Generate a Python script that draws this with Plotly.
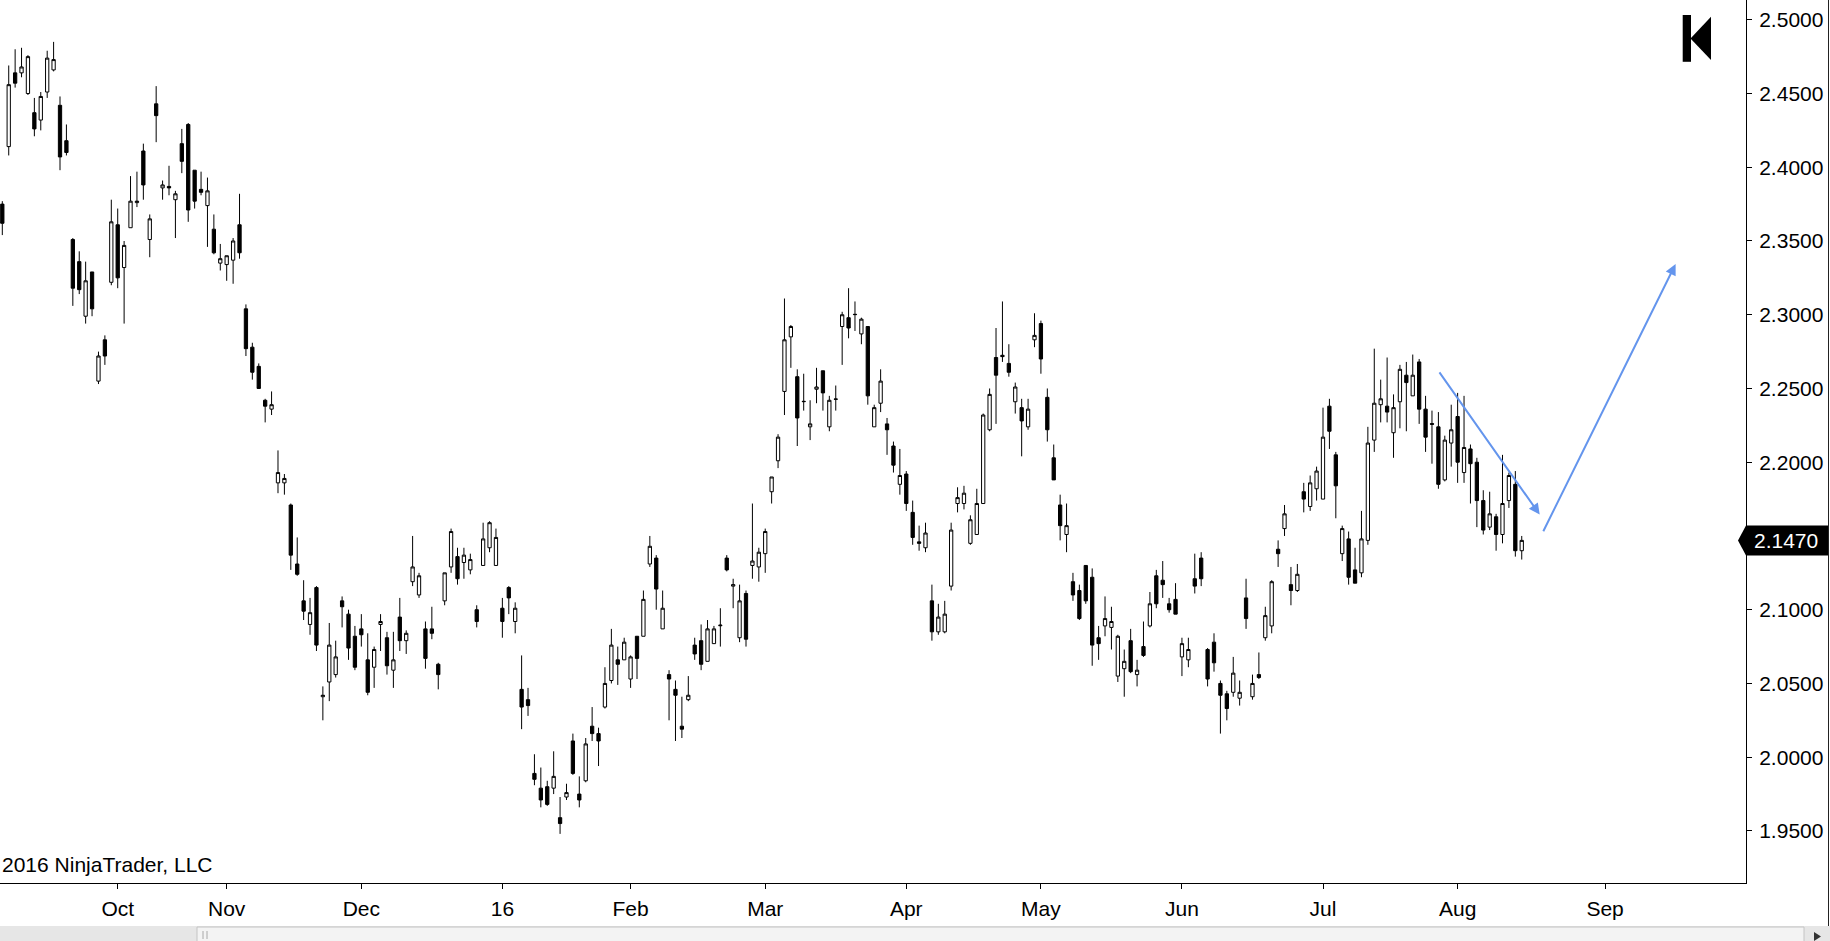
import plotly.graph_objects as go

# daily bars, oldest first
opens = [
    2.375, 2.414, 2.464, 2.464, 2.450, 2.437, 2.432, 2.451, 2.466, 2.442,
    2.418, 2.351, 2.336, 2.299, 2.329, 2.255, 2.283, 2.322, 2.361, 2.332,
    2.359, 2.376, 2.411, 2.351, 2.443, 2.386, 2.387, 2.378, 2.416, 2.429,
    2.398, 2.385, 2.374, 2.358, 2.335, 2.334, 2.337, 2.361, 2.304, 2.278,
    2.265, 2.242, 2.236, 2.186, 2.186, 2.171, 2.131, 2.106, 2.090, 2.115,
    2.041, 2.051, 2.056, 2.106, 2.097, 2.082, 2.087, 2.066, 2.061, 2.090,
    2.081, 2.059, 2.095, 2.079, 2.119, 2.110, 2.087, 2.087, 2.063, 2.106,
    2.129, 2.136, 2.132, 2.127, 2.100, 2.130, 2.142, 2.130, 2.101, 2.115,
    2.092, 2.046, 2.039, 1.989, 1.979, 1.980, 1.979, 1.959, 1.973, 2.011,
    1.975, 1.984, 2.021, 2.016, 2.034, 2.052, 2.066, 2.066, 2.053, 2.082,
    2.082, 2.131, 2.135, 2.087, 2.056, 2.046, 2.021, 2.039, 2.076, 2.079,
    2.065, 2.077, 2.0891, 2.135, 2.116, 2.081, 2.111, 2.130, 2.129, 2.138,
    2.180, 2.201, 2.248, 2.285, 2.258, 2.2413, 2.224, 2.2495, 2.262, 2.224,
    2.2429, 2.292, 2.298, 2.3003, 2.287, 2.292, 2.224, 2.240, 2.226, 2.211,
    2.185, 2.192, 2.166, 2.146, 2.142, 2.106, 2.085, 2.085, 2.116, 2.172,
    2.172, 2.145, 2.151, 2.172, 2.222, 2.271, 2.2725, 2.267, 2.241, 2.237,
    2.224, 2.283, 2.294, 2.244, 2.203, 2.171, 2.151, 2.119, 2.113, 2.130,
    2.122, 2.081, 2.089, 2.088, 2.055, 2.060, 2.079, 2.056, 2.075, 2.089,
    2.123, 2.120, 2.104, 2.107, 2.068, 2.066, 2.121, 2.135, 2.073, 2.078,
    2.050, 2.043, 2.044, 2.040, 2.108, 2.041, 2.056, 2.081, 2.089, 2.141,
    2.155, 2.117, 2.113, 2.180, 2.170, 2.182, 2.175, 2.238, 2.205, 2.138,
    2.148, 2.127, 2.125, 2.147, 2.215, 2.239, 2.238, 2.220, 2.241, 2.259,
    2.245, 2.268, 2.236, 2.2262, 2.224, 2.188, 2.213, 2.231, 2.193, 2.209,
    2.200, 2.174, 2.156, 2.163, 2.151, 2.174, 2.185, 2.140,
]
highs = [
    2.377, 2.469, 2.480, 2.481, 2.476, 2.447, 2.451, 2.479, 2.485, 2.448,
    2.429, 2.352, 2.343, 2.336, 2.329, 2.275, 2.286, 2.378, 2.372, 2.350,
    2.394, 2.397, 2.416, 2.368, 2.455, 2.391, 2.401, 2.384, 2.426, 2.430,
    2.398, 2.397, 2.393, 2.368, 2.348, 2.340, 2.352, 2.382, 2.307, 2.281,
    2.267, 2.243, 2.248, 2.208, 2.192, 2.172, 2.149, 2.120, 2.108, 2.116,
    2.048, 2.091, 2.079, 2.109, 2.100, 2.089, 2.097, 2.084, 2.075, 2.097,
    2.085, 2.085, 2.108, 2.086, 2.150, 2.125, 2.092, 2.102, 2.064, 2.125,
    2.155, 2.142, 2.142, 2.138, 2.103, 2.159, 2.160, 2.155, 2.108, 2.116,
    2.105, 2.069, 2.047, 2.002, 1.993, 1.984, 2.004, 1.973, 1.982, 2.016,
    1.987, 2.013, 2.034, 2.020, 2.061, 2.087, 2.075, 2.081, 2.069, 2.082,
    2.113, 2.150, 2.137, 2.113, 2.059, 2.052, 2.041, 2.055, 2.081, 2.090,
    2.093, 2.089, 2.101, 2.137, 2.121, 2.117, 2.113, 2.172, 2.142, 2.155,
    2.190, 2.219, 2.311, 2.293, 2.263, 2.260, 2.242, 2.264, 2.262, 2.245,
    2.252, 2.302, 2.318, 2.309, 2.298, 2.292, 2.239, 2.263, 2.230, 2.214,
    2.209, 2.194, 2.174, 2.157, 2.159, 2.117, 2.104, 2.106, 2.159, 2.183,
    2.184, 2.164, 2.182, 2.233, 2.250, 2.291, 2.309, 2.280, 2.254, 2.243,
    2.243, 2.301, 2.296, 2.250, 2.212, 2.178, 2.172, 2.125, 2.117, 2.130,
    2.128, 2.089, 2.109, 2.102, 2.083, 2.073, 2.087, 2.066, 2.092, 2.112,
    2.127, 2.133, 2.108, 2.118, 2.081, 2.081, 2.138, 2.139, 2.074, 2.084,
    2.052, 2.045, 2.068, 2.052, 2.121, 2.056, 2.071, 2.102, 2.120, 2.147,
    2.171, 2.129, 2.131, 2.186, 2.191, 2.197, 2.237, 2.243, 2.207, 2.157,
    2.153, 2.142, 2.167, 2.224, 2.277, 2.256, 2.271, 2.246, 2.266, 2.268,
    2.273, 2.270, 2.245, 2.235, 2.234, 2.218, 2.239, 2.247, 2.245, 2.212,
    2.203, 2.181, 2.180, 2.165, 2.205, 2.193, 2.194, 2.150,
]
lows = [
    2.354, 2.408, 2.454, 2.461, 2.449, 2.421, 2.425, 2.447, 2.465, 2.398,
    2.408, 2.306, 2.314, 2.294, 2.299, 2.253, 2.266, 2.320, 2.318, 2.294,
    2.359, 2.373, 2.378, 2.339, 2.417, 2.378, 2.381, 2.352, 2.396, 2.363,
    2.372, 2.381, 2.346, 2.341, 2.330, 2.323, 2.321, 2.338, 2.272, 2.256,
    2.250, 2.227, 2.232, 2.179, 2.178, 2.127, 2.123, 2.093, 2.083, 2.072,
    2.025, 2.038, 2.054, 2.088, 2.066, 2.059, 2.075, 2.042, 2.047, 2.072,
    2.056, 2.047, 2.072, 2.070, 2.116, 2.108, 2.060, 2.080, 2.046, 2.103,
    2.125, 2.117, 2.121, 2.124, 2.088, 2.130, 2.139, 2.130, 2.081, 2.097,
    2.084, 2.019, 2.028, 1.981, 1.966, 1.967, 1.975, 1.948, 1.971, 1.988,
    1.966, 1.983, 2.011, 1.994, 2.033, 2.050, 2.049, 2.066, 2.047, 2.053,
    2.082, 2.129, 2.100, 2.087, 2.025, 2.011, 2.013, 2.038, 2.066, 2.059,
    2.065, 2.077, 2.075, 2.126, 2.101, 2.078, 2.075, 2.121, 2.119, 2.125,
    2.172, 2.196, 2.232, 2.264, 2.211, 2.235, 2.215, 2.240, 2.235, 2.221,
    2.235, 2.266, 2.284, 2.289, 2.280, 2.239, 2.224, 2.234, 2.205, 2.193,
    2.178, 2.167, 2.144, 2.140, 2.139, 2.079, 2.083, 2.084, 2.113, 2.166,
    2.168, 2.144, 2.151, 2.172, 2.221, 2.226, 2.268, 2.258, 2.233, 2.204,
    2.222, 2.278, 2.260, 2.214, 2.188, 2.147, 2.139, 2.106, 2.093, 2.104,
    2.062, 2.066, 2.082, 2.073, 2.051, 2.041, 2.057, 2.048, 2.068, 2.088,
    2.101, 2.108, 2.098, 2.097, 2.055, 2.061, 2.111, 2.116, 2.048, 2.058,
    2.016, 2.025, 2.041, 2.035, 2.087, 2.039, 2.053, 2.079, 2.084, 2.129,
    2.150, 2.103, 2.112, 2.166, 2.167, 2.174, 2.175, 2.209, 2.162, 2.133,
    2.117, 2.118, 2.122, 2.144, 2.207, 2.227, 2.227, 2.203, 2.223, 2.221,
    2.245, 2.226, 2.207, 2.199, 2.182, 2.187, 2.197, 2.186, 2.186, 2.172,
    2.156, 2.151, 2.154, 2.140, 2.145, 2.169, 2.136, 2.134,
]
closes = [
    2.362, 2.456, 2.457, 2.468, 2.475, 2.426, 2.448, 2.474, 2.473, 2.407,
    2.410, 2.318, 2.317, 2.323, 2.304, 2.272, 2.272, 2.363, 2.325, 2.347,
    2.377, 2.377, 2.388, 2.365, 2.435, 2.388, 2.386, 2.382, 2.404, 2.371,
    2.377, 2.383, 2.384, 2.342, 2.338, 2.340, 2.350, 2.342, 2.277, 2.261,
    2.250, 2.238, 2.239, 2.193, 2.189, 2.137, 2.124, 2.099, 2.098, 2.076,
    2.042, 2.076, 2.068, 2.102, 2.074, 2.061, 2.083, 2.044, 2.073, 2.092,
    2.062, 2.066, 2.079, 2.084, 2.129, 2.123, 2.067, 2.084, 2.056, 2.125,
    2.153, 2.121, 2.137, 2.134, 2.092, 2.148, 2.159, 2.149, 2.092, 2.108,
    2.101, 2.034, 2.035, 1.985, 1.971, 1.968, 1.987, 1.955, 1.976, 1.989,
    1.971, 2.009, 2.016, 2.011, 2.050, 2.076, 2.063, 2.078, 2.068, 2.067,
    2.107, 2.143, 2.114, 2.101, 2.053, 2.042, 2.019, 2.042, 2.070, 2.063,
    2.087, 2.087, 2.0895, 2.127, 2.117, 2.106, 2.080, 2.133, 2.139, 2.153,
    2.190, 2.217, 2.283, 2.292, 2.230, 2.2411, 2.226, 2.251, 2.247, 2.242,
    2.2427, 2.300, 2.291, 2.3001, 2.297, 2.245, 2.237, 2.255, 2.222, 2.198,
    2.191, 2.172, 2.149, 2.145, 2.152, 2.085, 2.095, 2.097, 2.154, 2.176,
    2.179, 2.161, 2.172, 2.232, 2.246, 2.259, 2.2716, 2.261, 2.251, 2.228,
    2.236, 2.286, 2.270, 2.222, 2.188, 2.157, 2.157, 2.110, 2.094, 2.106,
    2.076, 2.077, 2.094, 2.092, 2.082, 2.065, 2.058, 2.059, 2.069, 2.104,
    2.104, 2.117, 2.100, 2.097, 2.077, 2.073, 2.116, 2.121, 2.053, 2.064,
    2.042, 2.033, 2.057, 2.044, 2.094, 2.050, 2.054, 2.096, 2.119, 2.138,
    2.165, 2.113, 2.124, 2.175, 2.186, 2.194, 2.217, 2.221, 2.184, 2.155,
    2.122, 2.118, 2.148, 2.213, 2.240, 2.243, 2.234, 2.237, 2.263, 2.254,
    2.259, 2.236, 2.217, 2.2257, 2.185, 2.215, 2.222, 2.200, 2.210, 2.199,
    2.174, 2.154, 2.165, 2.151, 2.172, 2.191, 2.140, 2.147,
]

# month labels and the bar each one sits on
month_labels = ["Oct", "Nov", "Dec", "16", "Feb", "Mar", "Apr", "May", "Jun", "Jul", "Aug", "Sep"]
month_bars = [18, 35, 56, 78, 98, 119, 141, 162, 184, 206, 227, 250]

# 2.1500 is hidden behind the last price tag
price_ticks = [1.95, 2.00, 2.05, 2.10, 2.20, 2.25, 2.30, 2.35, 2.40, 2.45, 2.50]

# hand drawn arrows: (bar, price) tail -> head
trend_arrows = [
    ((224.0, 2.2619), (239.8, 2.1645)),
    ((240.25, 2.1522), (261.0, 2.3344)),
]

W, H = 1830, 941
ML, MR, MT, MB = 0, 84, 0, 58
PW, PH = W - ML - MR, H - MT - MB
FONT = "Liberation Sans, Arial, sans-serif"
FSIZE = 21
ARROW_BLUE = "#6495ED"


def px(x):
    return x / PW


def py(y):
    return 1 - y / PH


bars = list(range(len(closes)))

fig = go.Figure()
fig.add_trace(go.Candlestick(
    x=bars, open=opens, high=highs, low=lows, close=closes,
    increasing=dict(line=dict(color="black", width=1), fillcolor="white"),
    decreasing=dict(line=dict(color="black", width=1), fillcolor="black"),
    whiskerwidth=0, hoverinfo="skip", showlegend=False,
))

annotations = []
for (tx, ty), (hx, hy) in trend_arrows:
    annotations.append(dict(
        x=hx, y=hy, ax=tx, ay=ty, xref="x", yref="y", axref="x", ayref="y",
        text="", showarrow=True, arrowhead=2, arrowsize=1.1, arrowwidth=2,
        arrowcolor=ARROW_BLUE, standoff=0, startstandoff=0,
    ))

last = closes[-1]
annotations.append(dict(
    x=1, y=last, xref="paper", yref="y", xanchor="left", yanchor="middle",
    xshift=6, text="%.4f" % last, showarrow=False,
    font=dict(family=FONT, size=FSIZE, color="white"),
))
annotations.append(dict(
    x=0, y=py(864), xref="paper", yref="paper", xanchor="left", yanchor="middle",
    text="2016 NinjaTrader, LLC", showarrow=False,
    font=dict(family=FONT, size=FSIZE, color="black"),
))

shapes = [
    # last price tag
    dict(type="path", xref="paper", yref="y", xsizemode="pixel", ysizemode="pixel",
         xanchor=1, yanchor=last,
         path="M -8 0 L 0 15 L 83 15 L 83 -15 L 0 -15 Z",
         fillcolor="black", line=dict(width=0)),
    # logo
    dict(type="rect", xref="paper", yref="paper", x0=px(1682.7), x1=px(1691),
         y0=py(61.8), y1=py(15), fillcolor="black", line=dict(width=0)),
    dict(type="path", xref="paper", yref="paper",
         path="M %f %f L %f %f L %f %f Z" % (px(1690.5), py(38.4), px(1711), py(16.8), px(1711), py(60)),
         fillcolor="black", line=dict(width=0)),
    # scrollbar strip
    dict(type="rect", xref="paper", yref="paper", x0=px(0), x1=px(1830),
         y0=py(941), y1=py(926), fillcolor="#e6e6e6", line=dict(width=0)),
    dict(type="rect", xref="paper", yref="paper", x0=px(197), x1=px(1804),
         y0=py(942), y1=py(927), fillcolor="#f3f3f3", line=dict(color="#c4c4c4", width=1)),
    dict(type="line", xref="paper", yref="paper", x0=px(203), x1=px(203),
         y0=py(939), y1=py(931), line=dict(color="#a8a8a8", width=1)),
    dict(type="line", xref="paper", yref="paper", x0=px(207), x1=px(207),
         y0=py(939), y1=py(931), line=dict(color="#a8a8a8", width=1)),
    dict(type="path", xref="paper", yref="paper",
         path="M %f %f L %f %f L %f %f Z" % (px(1814), py(932), px(1814), py(941), px(1821), py(936.5)),
         fillcolor="#333333", line=dict(width=0)),
    # right frame line
    dict(type="line", xref="paper", yref="paper", x0=px(1828.5), x1=px(1828.5),
         y0=py(926), y1=1, line=dict(color="#222222", width=1)),
]

fig.update_layout(
    width=W, height=H,
    margin=dict(l=ML, r=MR, t=MT, b=MB, autoexpand=False),
    paper_bgcolor="white", plot_bgcolor="white",
    font=dict(family=FONT, size=FSIZE, color="black"),
    boxgap=0.27,
    showlegend=False,
    annotations=annotations,
    shapes=shapes,
    xaxis=dict(
        range=[-0.36, 271.98], rangeslider=dict(visible=False),
        tickmode="array", tickvals=month_bars, ticktext=month_labels,
        ticks="outside", ticklen=5, tickcolor="black", ticklabelstandoff=2,
        showline=True, linecolor="black", linewidth=1,
        showgrid=False, zeroline=False, fixedrange=True,
    ),
    yaxis=dict(
        side="right", range=[1.9147, 2.5134],
        tickmode="array", tickvals=price_ticks,
        ticktext=["%.4f" % p for p in price_ticks],
        ticks="outside", ticklen=5, tickcolor="black", ticklabelstandoff=3,
        showline=True, linecolor="black", linewidth=1, mirror=False,
        showgrid=False, zeroline=False, fixedrange=True,
    ),
)

fig.write_html("out.html", config={"displayModeBar": False},
               post_script="document.body.style.margin='0';")
